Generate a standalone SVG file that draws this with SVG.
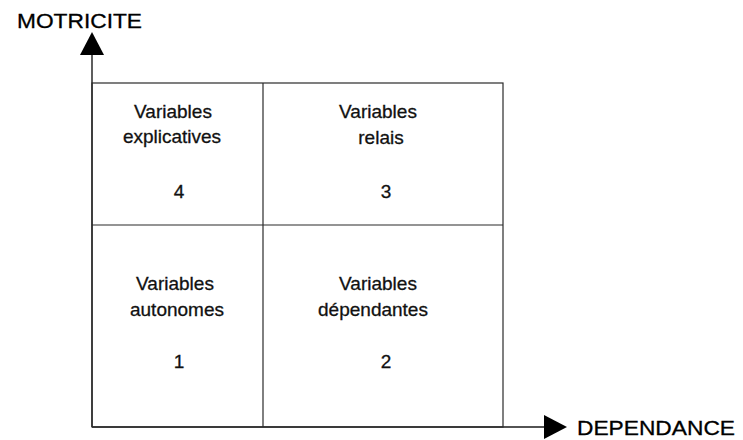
<svg xmlns="http://www.w3.org/2000/svg" width="743" height="440" viewBox="0 0 743 440">
  <style>
    .axis { stroke: #1a1a1a; stroke-width: 1.4; fill: none; }
    .grid { stroke: #2a2a2a; stroke-width: 1.2; fill: none; }
    .axis-label { font-family: "Liberation Sans", Arial, sans-serif; font-size: 21px; fill: #000; stroke: #000; stroke-width: 0.3; }
    .cell-text { font-family: "Liberation Sans", Arial, sans-serif; font-size: 19px; fill: #111; stroke: #111; stroke-width: 0.3; text-anchor: middle; }
  </style>
  <defs>
    <marker id="arrowhead" markerUnits="userSpaceOnUse" markerWidth="23" markerHeight="24" refX="0" refY="12" orient="auto">
      <path d="M0,0 L23,12 L0,24 Z" fill="#000"/>
    </marker>
  </defs>

  <rect width="743" height="440" fill="#fff"/>

  <!-- axes -->
  <g id="connectors">
    <line class="axis" x1="92" y1="427" x2="92" y2="55" marker-end="url(#arrowhead)"/>
    <line class="axis" x1="92" y1="427" x2="544" y2="427" marker-end="url(#arrowhead)"/>
  </g>

  <text class="axis-label" x="17" y="28" textLength="125" lengthAdjust="spacingAndGlyphs">MOTRICITE</text>
  <text class="axis-label" x="577" y="435" textLength="158" lengthAdjust="spacingAndGlyphs">DEPENDANCE</text>

  <!-- quadrant grid -->
  <g id="grid">
    <rect class="grid" x="92" y="83" width="411" height="344"/>
    <line class="grid" x1="263" y1="83" x2="263" y2="427"/>
    <line class="grid" x1="92" y1="225" x2="503" y2="225"/>
  </g>

  <g id="q4-explicatives">
    <text class="cell-text" x="173" y="118">Variables</text>
    <text class="cell-text" x="172" y="143">explicatives</text>
    <text class="cell-text" x="179" y="198">4</text>
  </g>

  <g id="q3-relais">
    <text class="cell-text" x="378" y="118">Variables</text>
    <text class="cell-text" x="381" y="144">relais</text>
    <text class="cell-text" x="386" y="198">3</text>
  </g>

  <g id="q1-autonomes">
    <text class="cell-text" x="175" y="290">Variables</text>
    <text class="cell-text" x="177" y="316">autonomes</text>
    <text class="cell-text" x="179" y="368">1</text>
  </g>

  <g id="q2-dependantes">
    <text class="cell-text" x="378" y="290">Variables</text>
    <text class="cell-text" x="373" y="316">dépendantes</text>
    <text class="cell-text" x="386" y="368">2</text>
  </g>
</svg>
